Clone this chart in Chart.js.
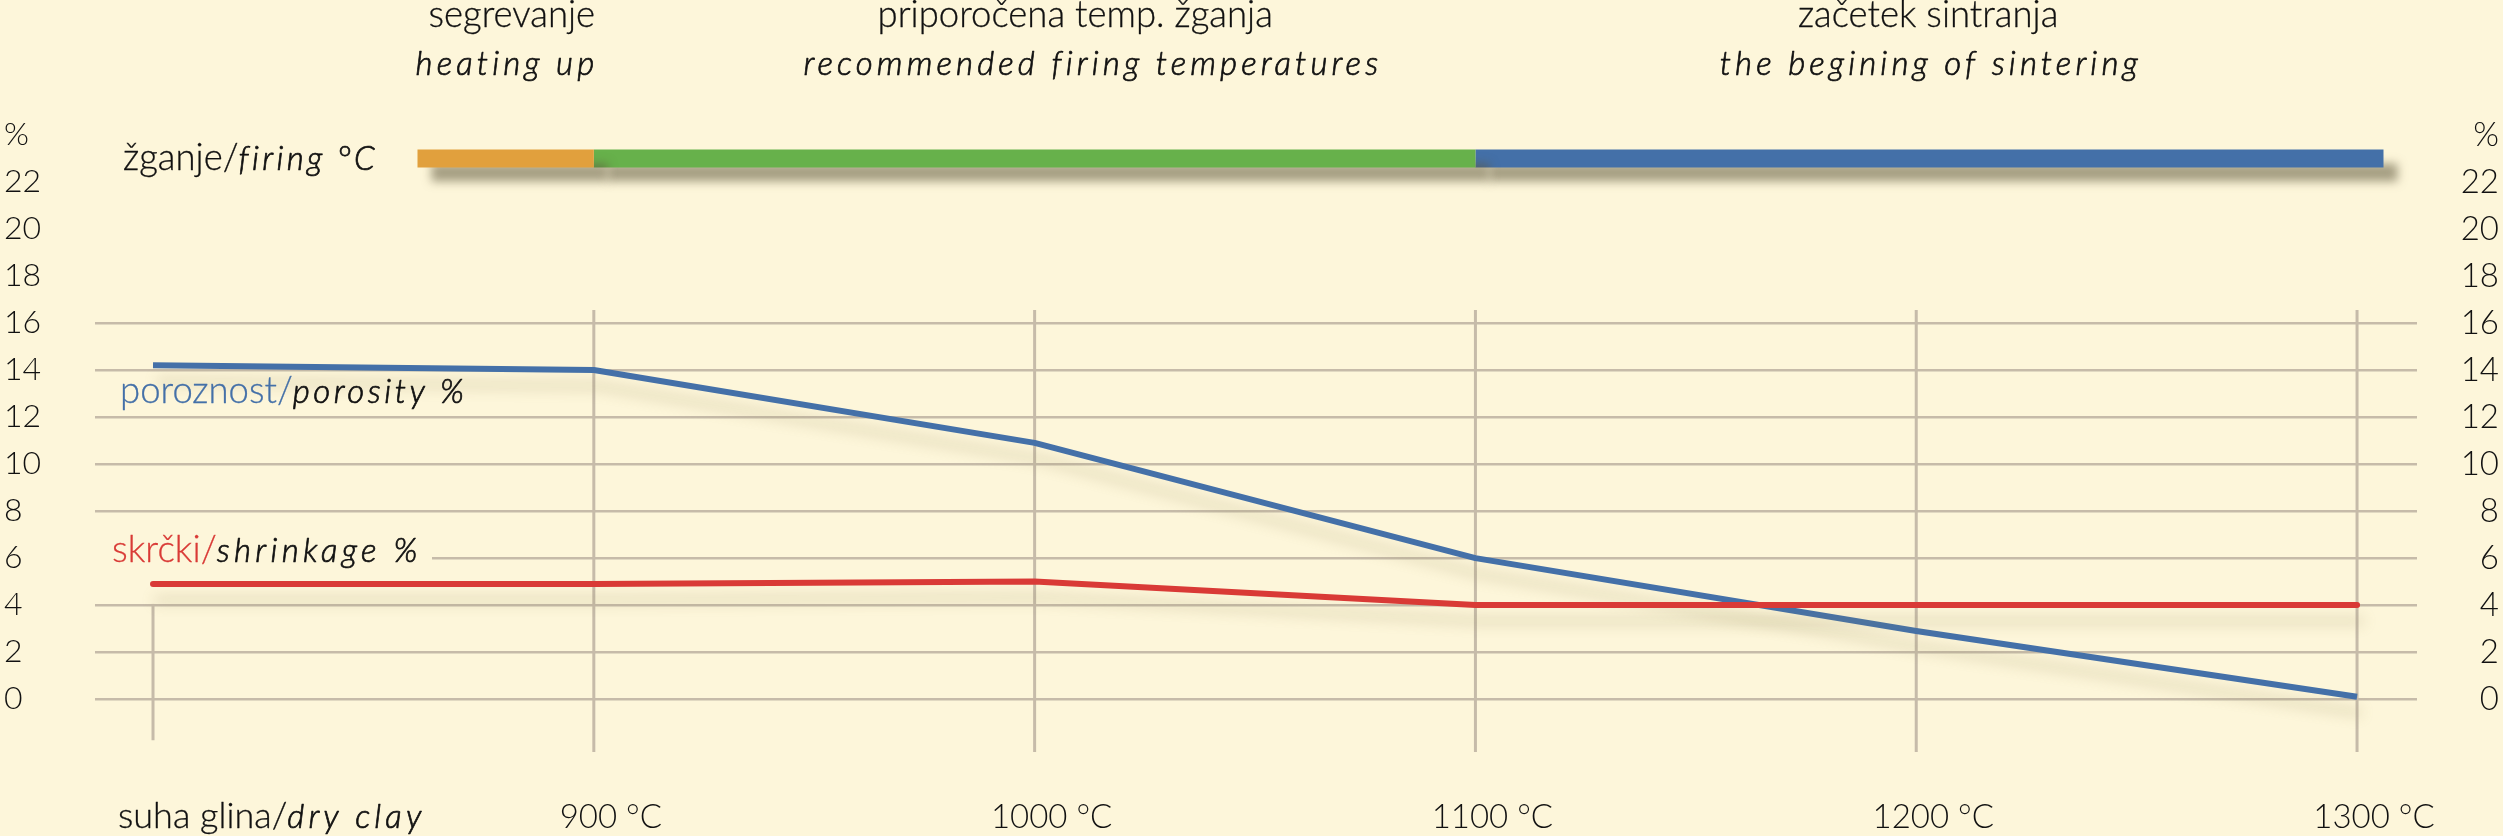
<!DOCTYPE html>
<html><head><meta charset="utf-8">
<script src="https://cdn.jsdelivr.net/npm/chart.js@4.4.0/dist/chart.umd.min.js"></script>
<style>html,body{margin:0;padding:0;background:#FDF6DA;overflow:hidden}canvas{display:block}</style>
</head><body>
<canvas id="c" width="2503" height="836"></canvas>
<script>
// ---- data ----
const categories = ['suha glina/dry clay', '900 °C', '1000 °C', '1100 °C', '1200 °C', '1300 °C'];
const porosity = [14.2, 14.0, 10.9, 6.0, 2.9, 0.1];
const shrinkage = [4.9, 4.9, 5.0, 4.0, 4.0, 4.0];
const yTickValues = [0, 2, 4, 6, 8, 10, 12, 14, 16, 18, 20, 22, 24];
const yTickLabels = ['0', '2', '4', '6', '8', '10', '12', '14', '16', '18', '20', '22', '%'];
const firingLevel = 23;
const phaseStart = [0.6, 1.0, 3.0];
const phaseEnd = [1.0, 3.0, 5.06];
const phaseTitle = ['segrevanje', 'priporočena temp. žganja', 'začetek sintranja'];
const phaseSubtitle = ['heating up', 'recommended firing temperatures', 'the begining of sintering'];

// ---- layout / style ----
const BG = '#FDF6DA';
const FONT = 'Lato, "Open Sans", sans-serif';
const UP = (s) => `300 ${s}px ${FONT}`;
const IT = (s) => `italic 300 ${s}px ${FONT}`;
const INK = '#111111';
const BLUE = '#4470A8', RED = '#D93A36';
const phaseColors = ['#E1A03D', '#67B14B', '#4470A8'];
const GRID = '#C6BBA9';
const titleCenter = [0.814, 2.092, 4.027];
const subtitleCenter = [0.803, 2.132, 4.033];

function drawRuns(ctx, runs, x, y, align) {
  ctx.save();
  ctx.textBaseline = 'alphabetic';
  ctx.textAlign = 'left';
  const widths = runs.map(r => { ctx.font = r.font; ctx.letterSpacing = r.ls || '0px'; return ctx.measureText(r.text).width; });
  const total = widths.reduce((a, b) => a + b, 0);
  let cx = align === 'center' ? x - total / 2 : x;
  runs.forEach((r, i) => {
    ctx.font = r.font; ctx.letterSpacing = r.ls || '0px'; ctx.fillStyle = r.color;
    ctx.fillText(r.text, cx, y);
    if (r.stroke) { ctx.strokeStyle = r.color; ctx.lineWidth = r.stroke; ctx.lineJoin = 'round'; ctx.strokeText(r.text, cx, y); }
    cx += widths[i];
  });
  ctx.restore();
}

const bgPlugin = {
  id: 'bg',
  beforeDraw(chart) {
    const ctx = chart.ctx; ctx.save(); ctx.fillStyle = BG; ctx.fillRect(0, 0, chart.width, chart.height); ctx.restore();
  }
};

const vLinePlugin = {
  id: 'vlines',
  beforeDatasetsDraw(chart) {
    const ctx = chart.ctx, xs = chart.scales.x, ys = chart.scales.y;
    ctx.save();
    // hide gridline under shrinkage label
    ctx.fillStyle = BG;
    ctx.fillRect(chart.chartArea.left - 2, ys.getPixelForValue(6) - 3, 434 - chart.chartArea.left, 6);
    ctx.strokeStyle = GRID; ctx.lineWidth = 3;
    categories.forEach((c, i) => {
      const x = xs.getPixelForValue(i);
      const top = ys.getPixelForValue(i === 0 ? 4.05 : 16.55);
      const bot = ys.getPixelForValue(i === 0 ? -1.75 : -2.25);
      ctx.beginPath(); ctx.moveTo(x, top); ctx.lineTo(x, bot); ctx.stroke();
    });
    ctx.restore();
  }
};

const shadowPlugin = {
  id: 'shadow',
  beforeDatasetDraw(chart, args) {
    const ds = chart.data.datasets[args.index];
    const ctx = chart.ctx; ctx.save();
    if (ds.isPhase) {
      ctx.shadowColor = 'rgba(95,88,60,0.55)'; ctx.shadowBlur = 10; ctx.shadowOffsetX = 14; ctx.shadowOffsetY = 14;
    } else {
      ctx.shadowColor = 'rgba(150,140,90,0.32)'; ctx.shadowBlur = 14; ctx.shadowOffsetX = 4; ctx.shadowOffsetY = 16;
    }
  },
  afterDatasetDraw(chart) { chart.ctx.restore(); }
};

const SW = 0.7; // stroke to darken thin italic
const textPlugin = {
  id: 'texts',
  afterDraw(chart) {
    const ctx = chart.ctx, xs = chart.scales.x, ys = chart.scales.y;
    phaseTitle.forEach((t, i) => {
      drawRuns(ctx, [{ text: t, font: UP(36.5), color: INK, stroke: 0.3 }], xs.getPixelForValue(titleCenter[i]), 27, 'center');
      drawRuns(ctx, [{ text: phaseSubtitle[i], font: IT(33), color: INK, ls: '4.1px', stroke: SW }], xs.getPixelForValue(subtitleCenter[i]), 75, 'center');
    });
    drawRuns(ctx, [{ text: 'žganje/', font: UP(36.5), color: INK, stroke: 0.3 }, { text: 'firing °C', font: IT(33), color: INK, ls: '3.3px', stroke: SW }], 123, ys.getPixelForValue(firingLevel) + 11, 'left');
    drawRuns(ctx, [{ text: 'poroznost/', font: UP(36.5), color: BLUE, stroke: 0.3 }, { text: 'porosity %', font: IT(33), color: INK, ls: '3.5px', stroke: SW }], 120, 403, 'left');
    drawRuns(ctx, [{ text: 'skrčki/', font: UP(37), color: RED, stroke: 0.3 }, { text: 'shrinkage %', font: IT(33), color: INK, ls: '4.3px', stroke: SW }], 112, 562, 'left');
    const dc = categories[0].split('/');
    drawRuns(ctx, [{ text: dc[0] + '/', font: UP(36), color: INK, stroke: 0.3 }, { text: dc[1], font: IT(33), color: INK, ls: '4.1px', stroke: SW }], 118, 828, 'left');
  }
};

const datasets = [
  { label: 'skrčki/shrinkage %', data: shrinkage.map((v, i) => ({ x: i, y: v })), borderColor: RED, borderWidth: 6,
    borderCapStyle: 'round', borderJoinStyle: 'round', pointRadius: 0, order: 0, tension: 0 },
  { label: 'poroznost/porosity %', data: porosity.map((v, i) => ({ x: i, y: v })), borderColor: BLUE, borderWidth: 6,
    borderCapStyle: 'butt', borderJoinStyle: 'round', pointRadius: 0, order: 1, tension: 0 }
];
phaseStart.forEach((s, i) => {
  datasets.push({ label: phaseTitle[i], isPhase: true, data: [{ x: s, y: firingLevel }, { x: phaseEnd[i], y: firingLevel }],
    borderColor: phaseColors[i], borderWidth: 18, borderCapStyle: 'butt', pointRadius: 0, order: 2 });
});

const tickFont = (s) => ({ family: FONT, size: s, weight: 300 });

new Chart(document.getElementById('c'), {
  type: 'line',
  data: { datasets },
  plugins: [bgPlugin, vLinePlugin, shadowPlugin, textPlugin],
  options: {
    responsive: false,
    devicePixelRatio: 1,
    animation: false,
    layout: { padding: { left: 4, right: 4, top: 135, bottom: 0 } },
    plugins: { legend: { display: false }, tooltip: { enabled: false } },
    scales: {
      x: {
        type: 'linear', position: 'bottom', min: -0.1316, max: 5.136,
        afterBuildTicks: s => { s.ticks = categories.map((c, i) => ({ value: i })); },
        grid: { display: false, drawTicks: false }, border: { display: false },
        ticks: { callback: (v, i) => (i === 0 ? '' : categories[v]), font: tickFont(33), color: INK,
          labelOffset: 17, padding: 46, maxRotation: 0, autoSkip: false },
        afterFit: s => { s.height = 84; }
      },
      y: {
        position: 'left', min: -2.25, max: 24,
        afterBuildTicks: s => { s.ticks = yTickValues.map(v => ({ value: v })); },
        grid: { color: c => (c.tick && c.tick.value > 16 ? 'rgba(0,0,0,0)' : GRID), lineWidth: 2.5, drawTicks: false },
        border: { display: false },
        ticks: { callback: v => yTickLabels[yTickValues.indexOf(v)], crossAlign: 'far', font: tickFont(32), color: INK, padding: 0 },
        afterFit: s => { s.width = 91; }
      },
      y2: {
        position: 'right', min: -2.25, max: 24,
        afterBuildTicks: s => { s.ticks = yTickValues.map(v => ({ value: v })); },
        grid: { display: false, drawTicks: false }, border: { display: false },
        ticks: { callback: v => yTickLabels[yTickValues.indexOf(v)], crossAlign: 'far', font: tickFont(33), color: INK, padding: 0 },
        afterFit: s => { s.width = 82; }
      }
    }
  }
});
</script>
</body></html>
